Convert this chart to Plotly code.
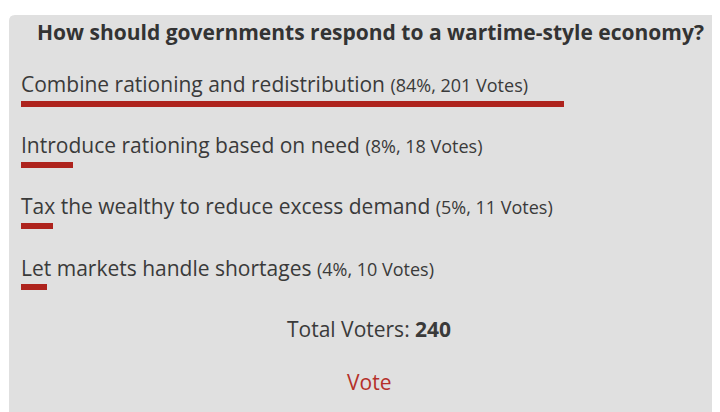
import plotly.graph_objects as go

title = "How should governments respond to a wartime-style economy?"
options = [
    "Combine rationing and redistribution",
    "Introduce rationing based on need",
    "Tax the wealthy to reduce excess demand",
    "Let markets handle shortages",
]
percents = [84, 8, 5, 4]
votes = [201, 18, 11, 10]
total_voters = 240

W, H = 720, 412
OFF = 8  # page body margin offset
TEXT = "#3a3a3a"
BAR = "#ae231d"
PANEL = "#e0e0e0"
FONT = "Open Sans"

def px(x):
    return (x - OFF) / W

def py(y):
    return 1 - (y - OFF) / H

# layout in screen pixels
bar_x0, bar_x100 = 21, 667
first_c, step = 104, 61.2
n = len(options)
top_px = first_c - step / 2
bot_px = first_c + step * (n - 1) + step / 2

fig = go.Figure()
fig.add_trace(go.Bar(
    x=percents,
    y=list(range(n)),
    orientation="h",
    width=6 / step,
    marker=dict(color=BAR, line=dict(width=0)),
    hoverinfo="skip",
    showlegend=False,
))

annotations = []
for i, (opt, p, v) in enumerate(zip(options, percents, votes)):
    annotations.append(dict(
        x=px(19), xref="paper", xanchor="left",
        y=i, yref="y", yanchor="middle", yshift=20,
        showarrow=False,
        text=f"{opt} <span style='font-size:18px'>({p}%, {v} Votes)</span>",
        font=dict(family=FONT, size=21, color=TEXT),
    ))

annotations.append(dict(
    x=px(370), y=py(32), xref="paper", yref="paper",
    xanchor="center", yanchor="middle", showarrow=False,
    text=f"<b>{title}</b>",
    font=dict(family=FONT, size=21, color="#333333"),
))
annotations.append(dict(
    x=px(369), y=py(329), xref="paper", yref="paper",
    xanchor="center", yanchor="middle", showarrow=False,
    text=f"Total Voters: <b>{total_voters}</b>",
    font=dict(family=FONT, size=21, color=TEXT),
))
annotations.append(dict(
    x=px(369), y=py(382), xref="paper", yref="paper",
    xanchor="center", yanchor="middle", showarrow=False,
    text="Vote",
    font=dict(family=FONT, size=21, color="#b5302a"),
))

r = 6
x0, y0 = px(9), py(15)
rx, ry = r / W, r / H
panel_path = (
    f"M {x0},{py(440)} L {x0},{y0 - ry} Q {x0},{y0} {x0 + rx},{y0} "
    f"L {px(740)},{y0} L {px(740)},{py(440)} Z"
)

fig.update_layout(
    width=W, height=H,
    margin=dict(l=0, r=0, t=0, b=0),
    paper_bgcolor="white",
    plot_bgcolor="rgba(0,0,0,0)",
    xaxis=dict(domain=[px(bar_x0), px(bar_x100)], range=[0, 100],
               visible=False, fixedrange=True),
    yaxis=dict(domain=[py(bot_px), py(top_px)], range=[n - 0.5, -0.5],
               visible=False, fixedrange=True),
    shapes=[dict(type="path", path=panel_path, xref="paper", yref="paper",
                 fillcolor=PANEL, line=dict(width=0), layer="below")],
    annotations=annotations,
    bargap=0,
)

fig.write_html("out.html")
